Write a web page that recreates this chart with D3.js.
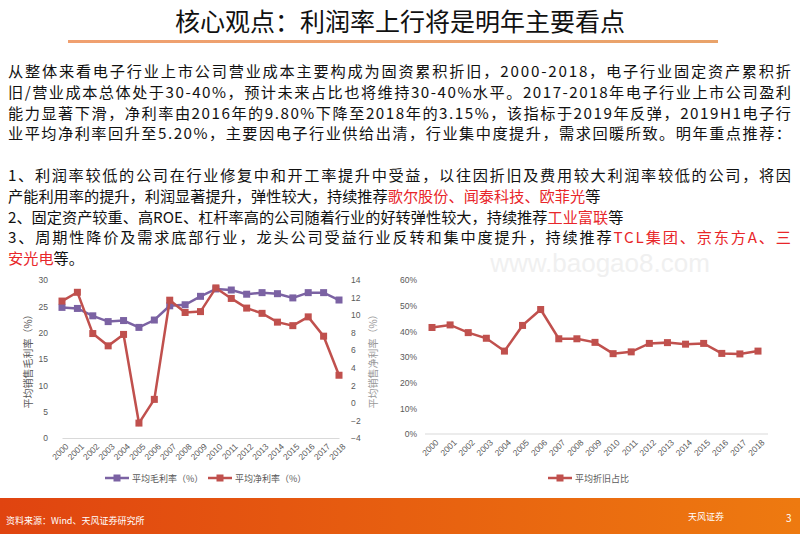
<!DOCTYPE html>
<html><head><meta charset="utf-8">
<script src="https://cdn.jsdelivr.net/npm/d3@7"></script>
<style>body{margin:0;background:#fff;font-family:"Noto Sans CJK SC","Noto Sans",sans-serif}</style>
</head><body>
<svg id="c" width="800" height="534"></svg>
<script>
// chart data
const years = d3.range(2000, 2019).map(String);
const grossMargin = [24.8, 24.6, 23.2, 22.1, 22.3, 21.0, 22.4, 25.1, 25.3, 26.9, 28.3, 28.1, 27.3, 27.6, 27.4, 26.6, 27.6, 27.6, 26.2];
const netMargin = [11.6, 12.6, 7.9, 6.5, 7.8, -2.3, 0.4, 11.7, 10.3, 10.4, 13.1, 11.9, 10.8, 10.2, 9.2, 8.8, 9.8, 7.6, 3.15];
const deprShare = [41.5, 42.5, 39.5, 37.3, 32.3, 42.3, 48.5, 37.1, 37.1, 35.7, 31.3, 32.0, 35.3, 35.6, 35.0, 35.3, 31.4, 31.2, 32.3];
const leftTicks = [0, 5, 10, 15, 20, 25, 30];
const rightTicks = [-4, -2, 0, 2, 4, 6, 8, 10, 12, 14];
const pctTicks = [0, 10, 20, 30, 40, 50, 60];

const svg = d3.select('#c');
const purple = '#7b62a3', red = '#c0504d', grey = '#595959';

// watermark (behind everything)
svg.append('text').attr('x', 600).attr('y', 272).attr('text-anchor', 'middle').attr('font-size', 26)
  .attr('fill', '#f0f0f0').attr('font-family', 'Arial').text('www.baogao8.com');

// header
const defs = svg.append('defs');
const grad = defs.append('linearGradient').attr('id', 'ul');
grad.append('stop').attr('offset', '0%').attr('stop-color', '#f0a070');
grad.append('stop').attr('offset', '100%').attr('stop-color', '#e9a36a');
svg.append('text').attr('x', 400).attr('y', 31).attr('text-anchor', 'middle')
  .attr('font-size', 25).attr('fill', '#111').text('核心观点：利润率上行将是明年主要看点');
svg.append('rect').attr('x', 68).attr('y', 40).attr('width', 650).attr('height', 3).attr('fill', 'url(#ul)');

// body text
const lines = [
  [['从整体来看电子行业上市公司营业成本主要构成为固资累积折旧，2000-2018，电子行业固定资产累积折']],
  [['旧/营业成本总体处于30-40%，预计未来占比也将维持30-40%水平。2017-2018年电子行业上市公司盈利']],
  [['能力显著下滑，净利率由2016年的9.80%下降至2018年的3.15%，该指标于2019年反弹，2019H1电子行']],
  [['业平均净利率回升至5.20%，主要因电子行业供给出清，行业集中度提升，需求回暖所致。明年重点推荐：']],
  null,
  [['1、利润率较低的公司在行业修复中和开工率提升中受益，以往因折旧及费用较大利润率较低的公司，将因']],
  [['产能利用率的提升，利润显著提升，弹性较大，持续推荐'], ['歌尔股份、闻泰科技、欧菲光', 1], ['等']],
  [['2、固定资产较重、高ROE、杠杆率高的公司随着行业的好转弹性较大，持续推荐'], ['工业富联', 1], ['等']],
  [['3、周期性降价及需求底部行业，龙头公司受益行业反转和集中度提升，持续推荐'], ['TCL集团、京东方A、三', 1]],
  [['安光电', 1], ['等。']]
];
lines.forEach((ln, i) => {
  if (!ln) return;
  const fit = i < 4 || i === 5 || i === 8;
  const t = svg.append('text').attr('x', 8).attr('y', 77 + i * 20.8).attr('font-size', 15.2)
    .attr('textLength', fit ? 783 : null).attr('fill', '#111');
  ln.forEach(p => t.append('tspan').attr('fill', p[1] ? '#e8262a' : '#111').text(p[0]));
});

function addAxisX(x, y0, keepDomain) {
  const g = svg.append('g').attr('transform', `translate(0,${y0})`)
    .call(d3.axisBottom(x).tickSize(0).tickPadding(6));
  if (keepDomain) g.select('.domain').attr('stroke', '#d9d9d9'); else g.select('.domain').remove();
  g.selectAll('text').attr('fill', grey).attr('font-size', 8.5).attr('font-family', 'Arial')
    .attr('text-anchor', 'end').attr('transform', 'rotate(-45)').attr('dx', '-0.2em').attr('dy', '0.6em');
}
function series(x, y, vals, color) {
  const line = d3.line().x((d, i) => x(years[i])).y(d => y(d));
  svg.append('path').datum(vals).attr('d', line).attr('fill', 'none').attr('stroke', color).attr('stroke-width', 2.5);
  svg.selectAll(null).data(vals).join('rect')
    .attr('x', (d, i) => x(years[i]) - 3.5).attr('y', d => y(d) - 3.5)
    .attr('width', 7).attr('height', 7).attr('fill', color);
}
function legendItem(x0, y0, color, label) {
  svg.append('line').attr('x1', x0).attr('x2', x0 + 24).attr('y1', y0).attr('y2', y0).attr('stroke', color).attr('stroke-width', 2.5);
  svg.append('rect').attr('x', x0 + 8.5).attr('y', y0 - 3.5).attr('width', 7).attr('height', 7).attr('fill', color);
  svg.append('text').attr('x', x0 + 27).attr('y', y0 + 3.5).attr('font-size', 9).attr('fill', grey).text(label);
}

// left chart
const xL = d3.scalePoint().domain(years).range([62, 339]);
const yL = d3.scaleLinear().domain([0, 30]).range([438, 280]);
const yR = d3.scaleLinear().domain([-4, 14]).range([438, 280]);
addAxisX(xL, 438, true);
const gl = svg.append('g').attr('transform', 'translate(52,0)')
  .call(d3.axisLeft(yL).tickValues(leftTicks).tickSize(0).tickPadding(4));
const gr = svg.append('g').attr('transform', 'translate(347,0)')
  .call(d3.axisRight(yR).tickValues(rightTicks).tickSize(0).tickPadding(4));
[gl, gr].forEach(g => {
  g.select('.domain').remove();
  g.selectAll('text').attr('fill', grey).attr('font-size', 8.5).attr('font-family', 'Arial');
});
series(xL, yL, grossMargin, purple);
series(xL, yR, netMargin, red);
svg.append('text').attr('transform', 'translate(32,359) rotate(-90)').attr('text-anchor', 'middle')
  .attr('font-size', 10).attr('fill', grey).text('平均销售毛利率（%）');
svg.append('text').attr('transform', 'translate(377,359) rotate(-90)').attr('text-anchor', 'middle')
  .attr('font-size', 10).attr('fill', '#999').text('平均销售净利率（%）');
legendItem(105, 478, purple, '平均毛利率（%）');
legendItem(208, 478, red, '平均净利率（%）');

// right chart
const x2 = d3.scalePoint().domain(years).range([432, 758]);
const y2 = d3.scaleLinear().domain([0, 60]).range([434, 280]);
svg.append('line').attr('x1', 425).attr('x2', 768).attr('y1', 434).attr('y2', 434).attr('stroke', '#d9d9d9');
addAxisX(x2, 434, false);
const g2 = svg.append('g').attr('transform', 'translate(419,0)')
  .call(d3.axisLeft(y2).tickValues(pctTicks).tickSize(0).tickPadding(2).tickFormat(d => d + '%'));
g2.select('.domain').remove();
g2.selectAll('text').attr('fill', grey).attr('font-size', 8.5).attr('font-family', 'Arial');
series(x2, y2, deprShare, red);
legendItem(548, 478, red, '平均折旧占比');

// footer
const fg = defs.append('linearGradient').attr('id', 'ft');
fg.append('stop').attr('offset', '0%').attr('stop-color', '#e04410');
fg.append('stop').attr('offset', '100%').attr('stop-color', '#ee7a10');
svg.append('rect').attr('x', 0).attr('y', 498).attr('width', 800).attr('height', 36).attr('fill', 'url(#ft)');
svg.append('text').attr('x', 6).attr('y', 524).attr('font-size', 9).attr('fill', '#fff').text('资料来源：Wind、天风证券研究所');
svg.append('text').attr('x', 688).attr('y', 520).attr('font-size', 9).attr('fill', '#fff').text('天风证券');
svg.append('text').attr('x', 786).attr('y', 522).attr('font-size', 10).attr('fill', '#fff').text('3');
</script>
</body></html>
